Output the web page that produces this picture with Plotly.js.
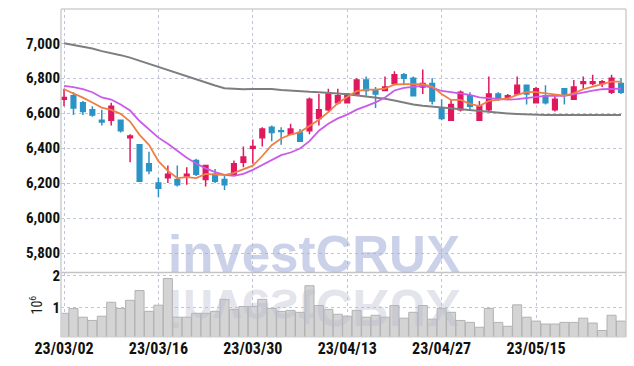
<!DOCTYPE html>
<html>
<head>
<meta charset="utf-8">
<script src="https://cdn.plot.ly/plotly-3.0.1.min.js"></script>
<style>html,body{margin:0;padding:0;background:#fff;}#chart{width:634px;height:366px;}</style>
</head>
<body>
<div id="chart"></div>
<script>
// Trading dates (KRX, 2023)
const dates = ['23/03/02','23/03/03','23/03/06','23/03/07','23/03/08','23/03/09','23/03/10','23/03/13','23/03/14','23/03/15',
'23/03/16','23/03/17','23/03/20','23/03/21','23/03/22','23/03/23','23/03/24','23/03/27','23/03/28','23/03/29',
'23/03/30','23/03/31','23/04/03','23/04/04','23/04/05','23/04/06','23/04/07','23/04/10','23/04/11','23/04/12',
'23/04/13','23/04/14','23/04/17','23/04/18','23/04/19','23/04/20','23/04/21','23/04/24','23/04/25','23/04/26',
'23/04/27','23/04/28','23/05/02','23/05/03','23/05/04','23/05/08','23/05/09','23/05/10','23/05/11','23/05/12',
'23/05/15','23/05/16','23/05/17','23/05/18','23/05/19','23/05/22','23/05/23','23/05/24','23/05/25','23/05/26'];

const openP  = [6680,6700,6660,6620,6560,6560,6560,6460,6420,6310,6200,6230,6220,6240,6330,6220,6250,6220,6250,6320,
                6400,6460,6520,6500,6480,6490,6500,6570,6620,6660,6660,6710,6790,6730,6730,6770,6820,6800,6750,6770,
                6630,6560,6620,6700,6560,6620,6710,6690,6710,6760,6660,6700,6620,6740,6680,6770,6770,6770,6720,6770];
const highP  = [6740,6720,6670,6640,6620,6660,6560,6480,6420,6380,6230,6300,6300,6290,6340,6300,6280,6240,6330,6410,
                6450,6520,6530,6520,6540,6510,6690,6710,6740,6740,6710,6800,6810,6750,6810,6840,6830,6810,6850,6800,
                6680,6680,6730,6720,6670,6810,6720,6710,6810,6760,6750,6760,6700,6740,6790,6810,6820,6790,6820,6800];
const lowP   = [6640,6590,6590,6580,6530,6530,6490,6320,6210,6250,6120,6200,6180,6190,6240,6180,6200,6160,6250,6290,
                6310,6410,6440,6420,6480,6440,6480,6530,6610,6650,6660,6700,6700,6630,6730,6760,6760,6700,6710,6650,
                6560,6560,6610,6620,6560,6610,6670,6680,6710,6650,6660,6650,6610,6650,6680,6740,6760,6750,6710,6710];
const closeP = [6690,6630,6610,6590,6550,6640,6500,6470,6210,6270,6170,6250,6190,6250,6250,6300,6210,6190,6310,6350,
                6410,6510,6490,6495,6510,6440,6680,6620,6710,6700,6710,6790,6730,6710,6750,6820,6800,6700,6770,6670,
                6570,6650,6720,6640,6640,6710,6680,6700,6760,6710,6740,6660,6680,6710,6750,6780,6780,6780,6800,6720];

const volume = [830000,980000,710000,610000,740000,1170000,980000,1230000,1530000,890000,
                1080000,1900000,710000,710000,830000,830000,890000,1260000,950000,1040000,
                1040000,1260000,980000,890000,920000,860000,1680000,1070000,950000,800000,
                740000,920000,710000,770000,710000,1070000,680000,860000,1070000,650000,
                980000,860000,610000,550000,400000,980000,550000,430000,1090000,710000,
                590000,500000,500000,550000,550000,680000,530000,300000,770000,590000];

// Moving averages
const maShort = [6737,6714,6689,6661,6632,6619,6596,6552,6476,6419,6325,6270,6229,6234,6229,6253,6250,6246,6259,6278,
                 6300,6355,6417,6455,6478,6492,6526,6562,6606,6657,6693,6726,6735,6735,6740,6764,6766,6766,6766,6752,
                 6710,6676,6676,6653,6641,6670,6676,6684,6705,6720,6720,6714,6705,6701,6714,6737,6752,6767,6781,6781];
const maMid   = [6756,6749,6737,6720,6690,6678,6650,6615,6555,6505,6460,6425,6385,6345,6312,6284,6263,6247,6242,6253,
                 6276,6305,6333,6360,6375,6398,6440,6500,6540,6570,6592,6620,6640,6662,6690,6730,6745,6752,6757,6746,
                 6727,6720,6714,6705,6691,6686,6680,6678,6680,6686,6695,6699,6699,6699,6708,6720,6729,6737,6739,6740];
const maLong  = [7000,6990,6980,6970,6955,6945,6932,6918,6900,6882,6864,6846,6828,6810,6793,6775,6758,6743,6738,6737,
                 6738,6740,6738,6733,6728,6725,6722,6720,6718,6713,6708,6702,6697,6690,6682,6672,6660,6650,6643,6638,
                 6633,6628,6622,6616,6610,6605,6600,6598,6596,6593,6591,6590,6590,6589,6588,6589,6589,6590,6590,6590];

const tickLabels = ['23/03/02','23/03/16','23/03/30','23/04/13','23/04/27','23/05/15'];
const priceTicks = [5800,6000,6200,6400,6600,6800,7000];
const volTicks = [1000000,2000000];
const volTickText = ['1','2'];

const FONT = 'Liberation Sans Narrow, Roboto Condensed, Liberation Sans, sans-serif';
const UP = '#e0185e', DOWN = '#2b93c5';

const traces = [
  {type:'candlestick', x:dates, open:openP, high:highP, low:lowP, close:closeP,
   xaxis:'x', yaxis:'y',
   increasing:{line:{color:UP,width:1.5}, fillcolor:UP},
   decreasing:{line:{color:DOWN,width:1.5}, fillcolor:DOWN},
   whiskerwidth:0, hoverinfo:'skip'},
  {type:'scatter', mode:'lines', x:dates, y:maLong, xaxis:'x', yaxis:'y',
   line:{color:'#7e7e7e', width:2}, hoverinfo:'skip'},
  {type:'scatter', mode:'lines', x:dates, y:maMid, xaxis:'x', yaxis:'y',
   line:{color:'#c95be8', width:1.8}, hoverinfo:'skip'},
  {type:'scatter', mode:'lines', x:dates, y:maShort, xaxis:'x', yaxis:'y',
   line:{color:'#f07f45', width:1.8}, hoverinfo:'skip'},
  {type:'bar', x:dates, y:volume, xaxis:'x', yaxis:'y2',
   marker:{color:'#d4d4d4', line:{color:'#b2b2b2', width:1}}, hoverinfo:'skip'}
];

const sepY = 0.1965;
const lineCol = '#cfcfcf';
const layout = {
  width:634, height:366,
  margin:{l:61, r:8, t:9, b:29},
  paper_bgcolor:'#ffffff', plot_bgcolor:'#ffffff',
  showlegend:false, bargap:0.04,
  xaxis:{type:'category', anchor:'y2', range:[-0.32,59.53],
    tickmode:'array', tickvals:tickLabels, ticktext:tickLabels,
    showgrid:true, gridcolor:'#bfc5da', griddash:'dot', gridwidth:1,
    showline:false, zeroline:false, ticks:'',
    tickfont:{family:FONT, size:16, color:'#111111', weight:'bold'},
    rangeslider:{visible:false}},
  yaxis:{domain:[0.199,1], range:[5693,7196],
    tickmode:'array', tickvals:priceTicks, tickformat:',d',
    showgrid:true, gridcolor:'#bfc5da', griddash:'dot', gridwidth:1,
    showline:false, zeroline:false, ticks:'',
    tickfont:{family:FONT, size:15, color:'#111111', weight:'bold'}},
  yaxis2:{domain:[0,0.194], range:[100000,2060000],
    tickmode:'array', tickvals:volTicks, ticktext:volTickText,
    showgrid:true, gridcolor:'#bfc5da', griddash:'dot', gridwidth:1,
    showline:false, zeroline:false, ticks:'',
    tickfont:{family:FONT, size:15, color:'#111111', weight:'bold'},
    title:{text:'10<sup>6</sup>', font:{family:FONT, size:14, color:'#1a1a1a'}, standoff:6}},
  shapes:[
    {type:'line', xref:'paper', yref:'paper', x0:0, x1:1, y0:1, y1:1, line:{color:lineCol, width:1.5}},
    {type:'line', xref:'paper', yref:'paper', x0:0, x1:0, y0:0, y1:1, line:{color:lineCol, width:1.5}},
    {type:'line', xref:'paper', yref:'paper', x0:1, x1:1, y0:0, y1:1, line:{color:lineCol, width:1.5}},
    {type:'line', xref:'paper', yref:'paper', x0:0, x1:1, y0:sepY, y1:sepY, line:{color:'#c4c4c4', width:1.5}},
    {type:'line', xref:'paper', yref:'paper', x0:0, x1:1, y0:0, y1:0, line:{color:lineCol, width:1}}
  ],
  annotations:[
    {xref:'paper', yref:'paper', x:0.447, y:0.252, xanchor:'center', yanchor:'middle', showarrow:false,
     text:'<b>investCRUX</b>', font:{family:'Liberation Sans, Arial, sans-serif', size:51, color:'rgba(160,172,214,0.55)'}},
    {xref:'paper', yref:'paper', x:0.447, y:0.09, xanchor:'center', yanchor:'middle', showarrow:false,
     text:'<b>investCRUX</b>', font:{family:'Liberation Sans, Arial, sans-serif', size:51, color:'rgba(185,185,205,0.38)'}}
  ]
};

function flipReflection(){
  const t = document.querySelectorAll('#chart .annotation-text');
  if (t.length > 1) {
    const el = t[1];
    el.style.transformBox = 'fill-box';
    el.style.transformOrigin = '50% 50%';
    el.style.transform = 'scaleY(-1)';
  }
}
Plotly.newPlot('chart', traces, layout, {staticPlot:true, displayModeBar:false}).then(flipReflection);
flipReflection();
</script>
</body>
</html>
